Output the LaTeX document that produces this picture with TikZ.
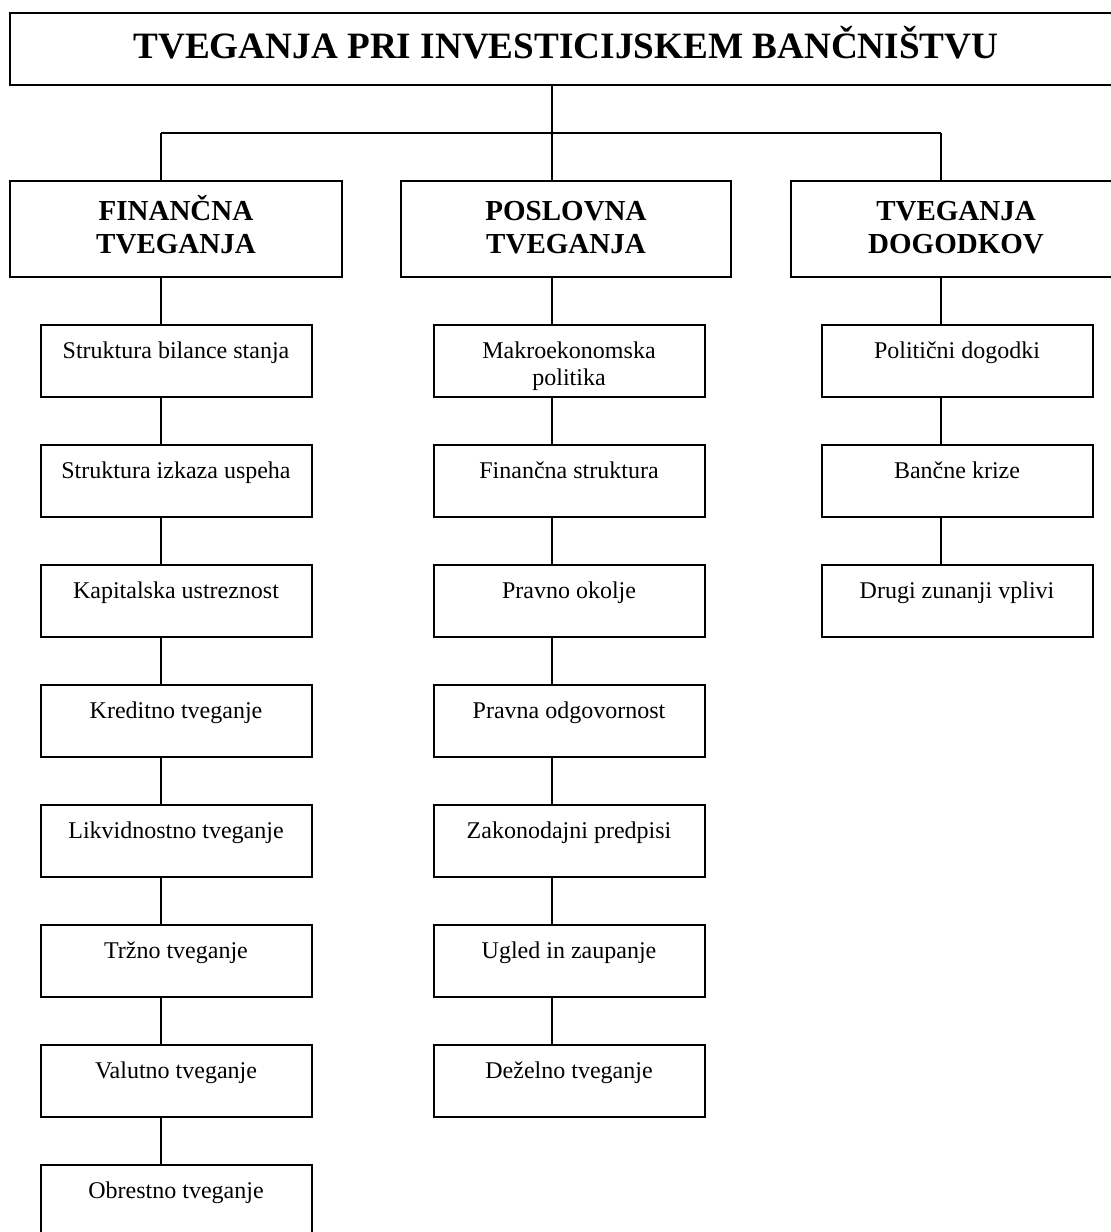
\documentclass[tikz,border=0pt]{standalone}
\usepackage{fontspec}
\setmainfont{Liberation Serif}
\usepackage{tikz}
\newcommand{\twolines}[2]{\begin{tabular}[t]{@{}c@{}}#1\\#2\end{tabular}}
\begin{document}
\begin{tikzpicture}[x=0.5pt, y=-0.5pt]
\useasboundingbox (0, 0) rectangle (1110, 1232);
\tikzstyle{every node} = [draw, line width=1pt, rectangle, inner sep=0pt]
\tikzstyle{topbox} = [minimum width=556pt, text height=22.5pt, text depth=13.5pt, font=\bfseries\fontsize{18.6}{20}\selectfont]
\tikzstyle{catbox} = [minimum width=165pt, text height=19.5pt, text depth=28.5pt, font=\bfseries\fontsize{14.5}{16.5}\selectfont]
\tikzstyle{subbox} = [minimum width=135.5pt, text height=16.5pt, text depth=19.5pt, font=\fontsize{12}{13.5}\selectfont]
\node[topbox] (top) at (566, 49) {TVEGANJA PRI INVESTICIJSKEM BANČNIŠTVU};
\node[catbox, minimum width=166pt] (cat_f) at (176, 229) {\twolines{FINANČNA}{TVEGANJA}};
\node[catbox] (cat_p) at (566, 229) {\twolines{POSLOVNA}{TVEGANJA}};
\node[catbox] (cat_d) at (956, 229) {\twolines{TVEGANJA}{DOGODKOV}};
\node[subbox] (f_1) at (176, 361) {Struktura bilance stanja};
\node[subbox] (f_2) at (176, 481) {Struktura izkaza uspeha};
\node[subbox] (f_3) at (176, 601) {Kapitalska ustreznost};
\node[subbox] (f_4) at (176, 721) {Kreditno tveganje};
\node[subbox] (f_5) at (176, 841) {Likvidnostno tveganje};
\node[subbox] (f_6) at (176, 961) {Tržno tveganje};
\node[subbox] (f_7) at (176, 1081) {Valutno tveganje};
\node[subbox] (f_8) at (176, 1201) {Obrestno tveganje};
\node[subbox] (p_1) at (569, 361) {\twolines{Makroekonomska}{politika}};
\node[subbox] (p_2) at (569, 481) {Finančna struktura};
\node[subbox] (p_3) at (569, 601) {Pravno okolje};
\node[subbox] (p_4) at (569, 721) {Pravna odgovornost};
\node[subbox] (p_5) at (569, 841) {Zakonodajni predpisi};
\node[subbox] (p_6) at (569, 961) {Ugled in zaupanje};
\node[subbox] (p_7) at (569, 1081) {Deželno tveganje};
\node[subbox] (d_1) at (957, 361) {Politični dogodki};
\node[subbox] (d_2) at (957, 481) {Bančne krize};
\node[subbox] (d_3) at (957, 601) {Drugi zunanji vplivi};
\coordinate (j_f) at (161, 133);
\coordinate (j_p) at (552, 133);
\coordinate (j_d) at (941, 133);
\tikzstyle{every path} = [draw, line width=0.8pt]
\path (top.south -| j_p) -- (j_p);
\path (j_f) -- (j_d);
\path (j_f) -- (cat_f.north -| j_f);
\path (j_p) -- (cat_p.north -| j_p);
\path (j_d) -- (cat_d.north -| j_d);
\path (cat_f.south -| j_f) -- (f_1.north -| j_f);
\path (f_1.south -| j_f) -- (f_2.north -| j_f);
\path (f_2.south -| j_f) -- (f_3.north -| j_f);
\path (f_3.south -| j_f) -- (f_4.north -| j_f);
\path (f_4.south -| j_f) -- (f_5.north -| j_f);
\path (f_5.south -| j_f) -- (f_6.north -| j_f);
\path (f_6.south -| j_f) -- (f_7.north -| j_f);
\path (f_7.south -| j_f) -- (f_8.north -| j_f);
\path (cat_p.south -| j_p) -- (p_1.north -| j_p);
\path (p_1.south -| j_p) -- (p_2.north -| j_p);
\path (p_2.south -| j_p) -- (p_3.north -| j_p);
\path (p_3.south -| j_p) -- (p_4.north -| j_p);
\path (p_4.south -| j_p) -- (p_5.north -| j_p);
\path (p_5.south -| j_p) -- (p_6.north -| j_p);
\path (p_6.south -| j_p) -- (p_7.north -| j_p);
\path (cat_d.south -| j_d) -- (d_1.north -| j_d);
\path (d_1.south -| j_d) -- (d_2.north -| j_d);
\path (d_2.south -| j_d) -- (d_3.north -| j_d);
\end{tikzpicture}
\end{document}
